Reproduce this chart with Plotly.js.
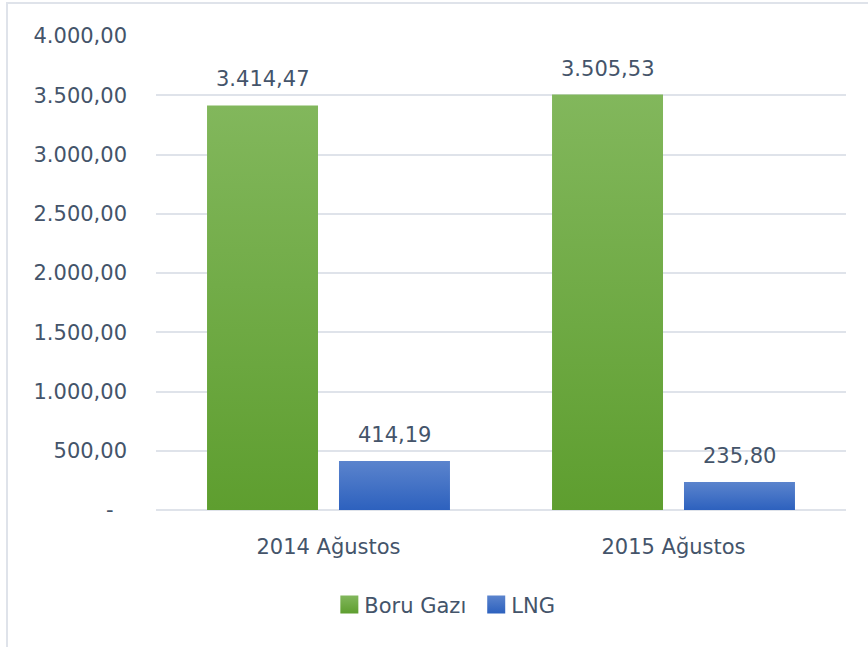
<!DOCTYPE html>
<html>
<head>
<meta charset="utf-8">
<script src="https://cdn.plot.ly/plotly-3.0.1.min.js"></script>
<style>
  html, body { margin: 0; padding: 0; background: #ffffff; }
  #frame { position: absolute; left: 6px; top: 2px; width: 900px; height: 700px;
           border-left: 2px solid #dfe3ea; border-top: 2px solid #dfe3ea; }
  #chart { position: absolute; left: 0; top: 0; width: 868px; height: 647px; }
</style>
</head>
<body>
<div id="frame"></div>
<div id="chart"></div>
<script>
const categories = ['2014 Ağustos', '2015 Ağustos'];
const boruGazi = [3414.47, 3505.53];
const lng = [414.19, 235.80];
const boruLabels = ['3.414,47', '3.505,53'];
const lngLabels = ['414,19', '235,80'];
const seriesNames = ['Boru Gazı', 'LNG'];
const yTickVals = [0, 500, 1000, 1500, 2000, 2500, 3000, 3500, 4000];
const yTickText = ['-\u00a0\u00a0', '500,00', '1.000,00', '1.500,00', '2.000,00', '2.500,00', '3.000,00', '3.500,00', '4.000,00'];

const textColor = '#44546a';
const fontFam = 'DejaVu Sans, sans-serif';
const fontSize = 21;
const bargap = 0.235;
const slot = (1 - bargap) / 2;

const traces = [
  { type: 'bar', name: seriesNames[0], x: categories, y: boruGazi,
    marker: { color: '#6fab44' }, hoverinfo: 'none' },
  { type: 'bar', name: seriesNames[1], x: categories, y: lng,
    marker: { color: '#4472c6' }, hoverinfo: 'none' }
];

const annotations = [];
categories.forEach((c, i) => {
  annotations.push({ x: i - slot / 2, y: boruGazi[i], xref: 'x', yref: 'y', text: boruLabels[i],
    showarrow: false, yanchor: 'bottom', yshift: 12, font: { family: fontFam, size: fontSize, color: textColor } });
  annotations.push({ x: i + slot / 2, y: lng[i], xref: 'x', yref: 'y', text: lngLabels[i],
    showarrow: false, yanchor: 'bottom', yshift: 12, font: { family: fontFam, size: fontSize, color: textColor } });
});

const layout = {
  width: 868, height: 647,
  margin: { l: 156, r: 22, t: 36, b: 137 },
  paper_bgcolor: 'rgba(0,0,0,0)', plot_bgcolor: 'rgba(0,0,0,0)',
  font: { family: fontFam, size: fontSize, color: textColor },
  barmode: 'group', bargap: bargap, bargroupgap: 0.159,
  xaxis: { type: 'category', showgrid: false, showline: false, ticks: '', ticklabelstandoff: 22,
           tickfont: { family: fontFam, size: fontSize, color: textColor } },
  yaxis: { range: [0, 4000], tickvals: yTickVals, ticktext: yTickText, showgrid: true,
           gridcolor: '#dfe3ea', gridwidth: 2, zeroline: true, zerolinecolor: '#dfe3ea', zerolinewidth: 2,
           showline: false, ticks: '', ticklabelstandoff: 28,
           tickfont: { family: fontFam, size: fontSize, color: textColor } },
  showlegend: true,
  legend: { orientation: 'h', x: 0.415, xanchor: 'center', y: -0.2, yanchor: 'middle',
            font: { family: fontFam, size: fontSize, color: textColor }, itemwidth: 30,
            bgcolor: 'rgba(0,0,0,0)' },
  annotations: annotations
};

Plotly.newPlot('chart', traces, layout, { staticPlot: true, displayModeBar: false }).then(gd => {
  const svg = gd.querySelector('svg.main-svg');
  const ns = 'http://www.w3.org/2000/svg';
  let defs = svg.querySelector('defs');
  if (!defs) { defs = document.createElementNS(ns, 'defs'); svg.insertBefore(defs, svg.firstChild); }
  function grad(id, top, bottom) {
    const g = document.createElementNS(ns, 'linearGradient');
    g.setAttribute('id', id); g.setAttribute('x1', '0'); g.setAttribute('y1', '0');
    g.setAttribute('x2', '0'); g.setAttribute('y2', '1');
    [[0, top], [1, bottom]].forEach(([o, c]) => {
      const s = document.createElementNS(ns, 'stop');
      s.setAttribute('offset', o); s.setAttribute('stop-color', c); g.appendChild(s);
    });
    defs.appendChild(g);
  }
  grad('gGreen', '#82b75c', '#5e9e2f');
  grad('gBlue', '#5b84cd', '#2d61be');
  const ids = ['gGreen', 'gBlue'];
  gd.querySelectorAll('.barlayer .trace').forEach((t, i) => {
    t.querySelectorAll('path').forEach(p => { p.style.fill = 'url(#' + ids[i] + ')'; });
  });
  gd.querySelectorAll('.legend .traces').forEach((t, i) => {
    t.querySelectorAll('.legendpoints path').forEach(p => {
      p.setAttribute('d', 'M14,9H-4V-9H14Z');
      p.style.fill = 'url(#' + ids[i] + ')';
    });
  });
});
</script>
</body>
</html>
